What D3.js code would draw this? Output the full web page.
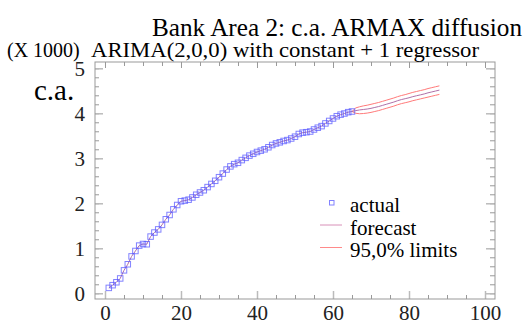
<!DOCTYPE html>
<html>
<head>
<meta charset="utf-8">
<script src="https://cdn.jsdelivr.net/npm/d3@7"></script>
<style>
  html, body { margin: 0; padding: 0; background: #fff; }
  svg { display: block; font-family: "Liberation Serif", "Times New Roman", serif; }
  .tick text { font-family: "Liberation Serif", serif; fill: #222; }
</style>
</head>
<body>
<div id="chart"></div>
<script>
// --- DATOS ---
const periods = d3.range(1, 66);
const actual = [120, 180, 245, 330, 510, 645, 820, 940, 1060, 1095,
  1090, 1260, 1350, 1420, 1520, 1645, 1740, 1866, 1962, 2045,
  2060, 2080, 2130, 2190, 2240, 2290, 2360, 2430, 2500, 2580,
  2660, 2750, 2820, 2870, 2900, 2960, 3010, 3060, 3100, 3140,
  3170, 3200, 3245, 3295, 3330, 3355, 3385, 3405, 3440, 3480,
  3540, 3570, 3580, 3595, 3640, 3680, 3715, 3775, 3830, 3885,
  3935, 3970, 3995, 4025, 4040];
const forecastPeriods = d3.range(65, 89);
const forecast = [4040, 4060, 4075, 4085, 4095, 4110, 4130, 4150, 4175, 4200,
  4225, 4250, 4280, 4305, 4325, 4345, 4370, 4390, 4410, 4430,
  4455, 4475, 4495, 4515];
const upper = [4040, 4120, 4145, 4165, 4180, 4200, 4220, 4240, 4265, 4290,
  4315, 4340, 4370, 4395, 4415, 4440, 4465, 4485, 4505, 4525,
  4550, 4570, 4590, 4610];
const lower = [4040, 4000, 3990, 3995, 4005, 4020, 4040, 4060, 4085, 4110,
  4135, 4160, 4190, 4215, 4235, 4255, 4280, 4300, 4320, 4340,
  4360, 4380, 4400, 4420];
const xTicks = [0, 20, 40, 60, 80, 100];
const yTicks = [0, 1000, 2000, 3000, 4000, 5000];
const legendItems = ["actual", "forecast", "95,0% limits"];

// --- CONFIGURACIÓN ---
const W = 527, H = 323;
const frame = { left: 95, right: 495, top: 62, bottom: 299 };

const svg = d3.select("#chart").append("svg")
  .attr("width", W).attr("height", H);

const x = d3.scaleLinear().domain([-2.63, 102.63]).range([frame.left, frame.right]);
const y = d3.scaleLinear().domain([-127, 5140]).range([frame.bottom, frame.top]);

// --- MARCO Y EJES ---
const minorX = d3.range(0, 101, 5);
const minorY = d3.range(0, 5001, 200);

function axisGroup(axis, tx, ty) {
  const g = svg.append("g").attr("transform", `translate(${tx},${ty})`).call(axis);
  g.select(".domain").remove();
  g.selectAll(".tick line").attr("stroke", "#999");
  return g;
}

// minor ticks
axisGroup(d3.axisBottom(x).tickValues(minorX).tickSize(-4).tickFormat(""), 0, frame.bottom);
axisGroup(d3.axisTop(x).tickValues(minorX).tickSize(-4).tickFormat(""), 0, frame.top);
axisGroup(d3.axisLeft(y).tickValues(minorY).tickSize(-4).tickFormat(""), frame.left, 0);
axisGroup(d3.axisRight(y).tickValues(minorY).tickSize(-5).tickFormat(""), frame.right, 0);

// major ticks con etiquetas
const gx = axisGroup(d3.axisBottom(x).tickValues(xTicks).tickSize(-8), 0, frame.bottom);
gx.selectAll(".tick text").style("font-size", "21px").attr("y", 21).attr("dy", 0);
const gy = axisGroup(d3.axisLeft(y).tickValues(yTicks).tickSize(-8).tickFormat(d => d / 1000).tickPadding(-8 + 18), frame.left, 0);
gy.selectAll(".tick text").style("font-size", "21px").attr("dy", "0.35em");
axisGroup(d3.axisTop(x).tickValues(xTicks).tickSize(-6).tickFormat(""), 0, frame.top);
axisGroup(d3.axisRight(y).tickValues(yTicks).tickSize(-9).tickFormat(""), frame.right, 0);

svg.selectAll(".tick line").filter(function() {
  return Math.abs(+this.getAttribute("x2") || +this.getAttribute("y2")) >= 8;
}).attr("stroke", "#bbb").attr("stroke-width", 1.5);

svg.append("rect")
  .attr("x", frame.left).attr("y", frame.top)
  .attr("width", frame.right - frame.left).attr("height", frame.bottom - frame.top)
  .attr("fill", "none").attr("stroke", "#999").attr("stroke-width", 1);

// --- TEXTOS ---
svg.append("text").attr("x", 152).attr("y", 36)
  .attr("textLength", 370).attr("lengthAdjust", "spacingAndGlyphs")
  .style("font-size", "26px").text("Bank Area 2: c.a. ARMAX diffusion");
svg.append("text").attr("x", 91).attr("y", 57)
  .attr("textLength", 388).attr("lengthAdjust", "spacingAndGlyphs")
  .style("font-size", "22px").text("ARIMA(2,0,0) with constant + 1 regressor");
svg.append("text").attr("x", 7).attr("y", 57)
  .style("font-size", "20px").text("(X 1000)");
svg.append("text").attr("x", 34).attr("y", 100)
  .style("font-size", "29px").text("c.a.");

// --- SERIES ---
const line = d3.line().x(d => x(d[0])).y(d => y(d[1]));
const fitted = periods.map((p, i) => [p, actual[i]]).concat(forecastPeriods.slice(1).map((p, i) => [p, forecast[i + 1]]));

svg.append("path").datum(forecastPeriods.map((p, i) => [p, upper[i]]))
  .attr("d", line).attr("fill", "none").attr("stroke", "#ff7a7a").attr("stroke-width", 1);
svg.append("path").datum(forecastPeriods.map((p, i) => [p, lower[i]]))
  .attr("d", line).attr("fill", "none").attr("stroke", "#ff7a7a").attr("stroke-width", 1);
svg.append("path").datum(fitted)
  .attr("d", line).attr("fill", "none").attr("stroke", "#b070a8").attr("stroke-width", 1);

const sq = 5.5;
svg.append("g").selectAll("rect").data(periods.map((p, i) => [p, actual[i]])).enter().append("rect")
  .attr("x", d => x(d[0]) - sq / 2).attr("y", d => y(d[1]) - sq / 2)
  .attr("width", sq).attr("height", sq)
  .attr("fill", "none").attr("stroke", "#5858ff").attr("stroke-opacity", 0.75).attr("stroke-width", 1);

// --- LEYENDA ---
const legend = svg.append("g");
legendItems.forEach((t, i) => {
  const ly = 212 + i * 22.5;
  legend.append("text").attr("x", 350).attr("y", ly).style("font-size", "21px").text(t);
});
legend.append("rect").attr("x", 329.5).attr("y", 200.5).attr("width", 4.5).attr("height", 4.5)
  .attr("fill", "none").attr("stroke", "#5858ff").attr("stroke-opacity", 0.75);
legend.append("line").attr("x1", 320).attr("x2", 342).attr("y1", 225).attr("y2", 225)
  .attr("stroke", "#d890b8").attr("stroke-width", 1);
legend.append("line").attr("x1", 320).attr("x2", 342).attr("y1", 247.5).attr("y2", 247.5)
  .attr("stroke", "#ff8a8a").attr("stroke-width", 1);
</script>
</body>
</html>
